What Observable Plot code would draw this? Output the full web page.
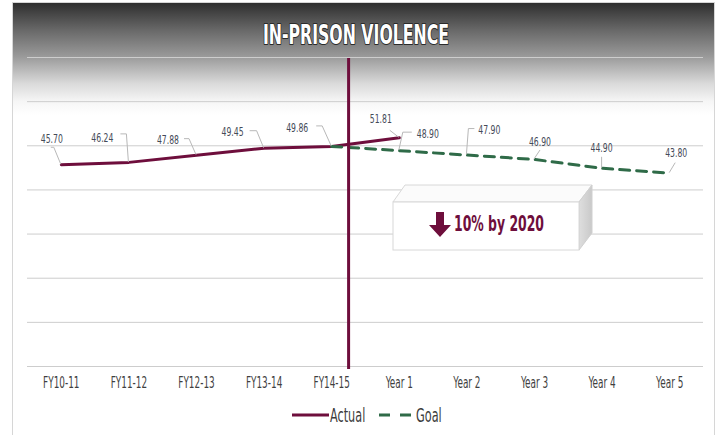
<!DOCTYPE html>
<html>
<head>
<meta charset="utf-8">
<script src="https://cdn.jsdelivr.net/npm/d3@7"></script>
<script src="https://cdn.jsdelivr.net/npm/@observablehq/plot@0.6"></script>
<style>
  html, body { margin: 0; padding: 0; background: #fff; }
  #wrap { position: relative; width: 720px; height: 435px; overflow: hidden; font-family: 'DejaVu Sans Condensed', 'DejaVu Sans', sans-serif; }
  #bg { position: absolute; left: 12px; top: 3px; width: 703px; height: 112px;
        background: linear-gradient(#2f2f2f 0%, #6a6a6a 25%, #9a9a9a 48%, #dadada 72%, #f6f6f6 88%, #ffffff 100%); }
  #frame { position: absolute; left: 12px; top: 2px; width: 703px; height: 460px; border: 1px solid #d6d6d6; box-sizing: border-box; }
  #chart { position: absolute; left: 0; top: 0; }
  #overlay { position: absolute; left: 0; top: 0; pointer-events: none; }
</style>
</head>
<body>
<div id="wrap">
  <div id="bg"></div>
  <div id="frame"></div>
  <div id="chart"></div>
  <svg id="overlay" width="720" height="435"></svg>
</div>
<script>
// ---------------- data ----------------
const chartTitle = "IN-PRISON VIOLENCE";
const categories = ["FY10-11", "FY11-12", "FY12-13", "FY13-14", "FY14-15", "Year 1", "Year 2", "Year 3", "Year 4", "Year 5"];
const actualValues = [45.70, 46.24, 47.88, 49.45, 49.86, 51.81];   // FY10-11 .. Year 1
const goalStartIndex = 4;                                            // goal starts at FY14-15
const goalValues = [49.86, 48.90, 47.90, 46.90, 44.90, 43.80];     // FY14-15 .. Year 5
const yTicks = [0, 10, 20, 30, 40, 50, 60, 70];
const dividerAt = [4.25];                                            // between FY14-15 and Year 1
const seriesNames = ["Actual", "Goal"];
const calloutText = "10% by 2020";

// ---------------- styles ----------------
const FONT = "'DejaVu Sans Condensed', 'DejaVu Sans', sans-serif";
const MAROON = "#6e0e3c";
const GREEN = "#2f6b48";
const LABEL = "#454a58";
const SQUEEZE = 0.66;   // emulate the very narrow original typeface

const actual = actualValues.map((v, i) => ({i, v}));
const goal = goalValues.map((v, k) => ({i: goalStartIndex + k, v}));
const goalLabelled = goal.slice(1);

// label placement (pixel offsets from each point): text centre + leader polyline
const actualLayout = [
  {tx: -9,  ty: -26, path: [[-10, -17], [-7, -17], [0, 0]]},
  {tx: -26, ty: -25, path: [[-8, -28], [-2, -28], [0, 0]]},
  {tx: -28, ty: -15, path: [[-12, -16], [-7, -16], [0, 0]]},
  {tx: -31, ty: -16, path: [[-14, -17], [-7, -17], [0, 0]]},
  {tx: -34, ty: -19, path: [[-15, -20], [-9, -20], [0, 0]]},
  {tx: -18, ty: -19, path: [[-9, -7], [0, 0]]}
];
const goalLayout = [
  {tx: 29, ty: -17, path: [[13, -18], [4, -18], [0, 0]]},
  {tx: 23, ty: -25, path: [[8, -26], [2, -26], [0, 0]]},
  {tx: 6,  ty: -18, path: [[0, 0], [6, -9]]},
  {tx: 0,  ty: -20, path: [[0, -11], [0, 0]]},
  {tx: 7,  ty: -20, path: [[0, 0], [6, -10]]}
];

function callouts(points, layout) {
  return (index, scales) => {
    const g = d3.create("svg:g");
    points.forEach((p, k) => {
      const px = scales.x(p.i), py = scales.y(p.v);
      const L = layout[k];
      g.append("polyline")
        .attr("points", L.path.map(([a, b]) => `${px + a},${py + b}`).join(" "))
        .attr("fill", "none").attr("stroke", "#b8b8b8").attr("stroke-width", 1);
      g.append("text")
        .attr("class", "squeeze")
        .attr("x", px + L.tx).attr("y", py + L.ty)
        .attr("text-anchor", "middle").attr("dy", "0.36em")
        .attr("fill", LABEL).attr("font-size", 13).attr("font-family", FONT)
        .text(p.v.toFixed(2));
    });
    return g.node();
  };
}

const chart = Plot.plot({
  width: 720,
  height: 400,
  marginTop: 57,
  marginBottom: 34,
  marginLeft: 27,
  marginRight: 17,
  style: {background: "transparent", fontFamily: FONT, overflow: "visible"},
  x: {type: "linear", domain: [-0.5, categories.length - 0.5], axis: null},
  y: {domain: [0, 70], axis: null},
  marks: [
    Plot.gridY(yTicks, {stroke: "#cdcdcd", strokeOpacity: 1, strokeWidth: 1}),
    Plot.axisX(d3.range(categories.length), {
      tickSize: 0, tickPadding: 11, fontSize: 15, fill: "#3f3f3f", label: null,
      tickFormat: i => categories[i]
    }),
    Plot.lineY(actual, {x: "i", y: "v", stroke: MAROON, strokeWidth: 3}),
    Plot.lineY(goal, {x: "i", y: "v", stroke: GREEN, strokeWidth: 3, strokeDasharray: "10,7"}),
    Plot.ruleX(dividerAt, {y1: 0, y2: 70, stroke: MAROON, strokeWidth: 3, insetTop: 3, insetBottom: -1}),
    callouts(actual, actualLayout),
    callouts(goalLabelled, goalLayout)
  ]
});
document.getElementById("chart").appendChild(chart);

// ---------------- overlay: title + 3D callout box + legend ----------------
const ov = d3.select("#overlay");
ov.append("text")
  .attr("x", 356).attr("y", 44)
  .attr("text-anchor", "middle")
  .attr("font-family", FONT).attr("font-weight", "bold").attr("font-size", 26)
  .attr("textLength", 186).attr("lengthAdjust", "spacingAndGlyphs")
  .attr("fill", "#ffffff").attr("stroke", "#2a2a2a").attr("stroke-width", 2)
  .attr("paint-order", "stroke").attr("stroke-linejoin", "round")
  .text(chartTitle);

const defs = ov.append("defs");
const grad = defs.append("linearGradient").attr("id", "side").attr("x1", 0).attr("x2", 1).attr("y1", 0).attr("y2", 0);
grad.append("stop").attr("offset", 0).attr("stop-color", "#dedede");
grad.append("stop").attr("offset", 1).attr("stop-color", "#c9c9c9");
const box = ov.append("g");
box.append("polygon").attr("points", "393,202 405,185 592,185 579,202")
  .attr("fill", "#fbfbfb").attr("stroke", "#d8d8d8");
box.append("polygon").attr("points", "579,202 592,185 592,233 579,250")
  .attr("fill", "url(#side)").attr("stroke", "#d0d0d0");
box.append("rect").attr("x", 393).attr("y", 202).attr("width", 186).attr("height", 48)
  .attr("fill", "#ffffff").attr("stroke", "#d8d8d8");
box.append("path").attr("d", "M436,212 H444 V225 H451 L440,237 L429,225 H436 Z").attr("fill", MAROON);
box.append("text").attr("x", 454).attr("y", 231)
  .attr("font-family", FONT).attr("font-weight", "bold").attr("font-size", 21)
  .attr("textLength", 90).attr("lengthAdjust", "spacingAndGlyphs")
  .attr("fill", MAROON).text(calloutText);

// legend
const lg = ov.append("g").attr("font-family", FONT).attr("font-size", 19).attr("fill", "#3c3c3c");
lg.append("line").attr("x1", 292).attr("x2", 329).attr("y1", 415).attr("y2", 415)
  .attr("stroke", MAROON).attr("stroke-width", 3);
lg.append("text").attr("class", "squeeze").attr("x", 330).attr("y", 422).text(seriesNames[0]);
lg.append("line").attr("x1", 379).attr("x2", 411).attr("y1", 415).attr("y2", 415)
  .attr("stroke", GREEN).attr("stroke-width", 3).attr("stroke-dasharray", "11,10");
lg.append("text").attr("class", "squeeze").attr("x", 416).attr("y", 422).text(seriesNames[1]);

// narrow every label: axis ticks, value labels, legend
const axisTexts = chart.querySelectorAll("[aria-label='x-axis tick label'] text");
const toSqueeze = [...axisTexts, ...document.querySelectorAll("text.squeeze")];
toSqueeze.forEach(t => {
  const w = t.getComputedTextLength();
  if (w > 0) {
    t.setAttribute("textLength", (w * SQUEEZE).toFixed(1));
    t.setAttribute("lengthAdjust", "spacingAndGlyphs");
  }
});
</script>
</body>
</html>
